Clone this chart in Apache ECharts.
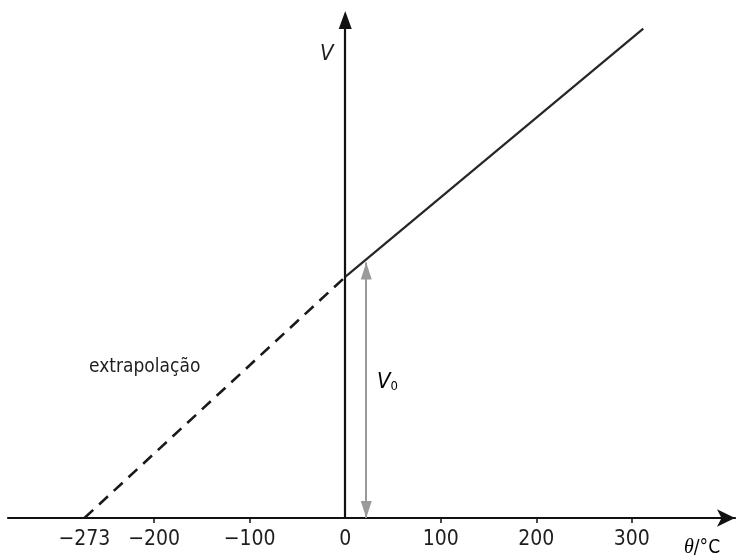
<!DOCTYPE html>
<html>
<head>
<meta charset="utf-8">
<script src="https://cdn.jsdelivr.net/npm/echarts@6/dist/echarts.min.js"></script>
<style>
  html, body { margin: 0; padding: 0; background: #fff; }
  #chart { width: 736px; height: 558px; }
</style>
</head>
<body>
<div id="chart"></div>
<script>
// Gas volume V against temperature θ (°C), with linear extrapolation to −273 °C
const thetaMeasured = [0, 312];      // solid part of the line (θ in °C)
const volumeMeasured = [100, 203];   // V in arbitrary units
const thetaExtrap = [-273, 0];       // dashed extrapolation
const volumeExtrap = [0, 100];
const v0Arrow = [[22, 0], [22, 106]]; // grey double arrow marking V0
const tickLabels = [-273, -200, -100, 0, 100, 200, 300];
const tickMarks = [-200, -100, 100, 200, 300];

const narrow = "'Liberation Sans Narrow','DejaVu Sans Condensed','Roboto Condensed','Liberation Sans',sans-serif";
const ink = '#1e1e1e';

const zip = (xs, ys) => xs.map((x, i) => [x, ys[i]]);

// arrow-head end of the V0 marker: the triangle tip sits on the end point
const arrowEnd = coord => ({
  coord,
  symbol: 'triangle',
  symbolSize: [11, 17],
  symbolOffset: [0, 8.5]
});

const chart = echarts.init(document.getElementById('chart'), null, { renderer: 'canvas' });

chart.setOption({
  animation: false,
  backgroundColor: '#fff',
  grid: { left: 8, right: 1, top: 20, bottom: 40, containLabel: false },
  xAxis: {
    type: 'value',
    min: -353,
    max: 408,
    splitLine: { show: false },
    axisLine: {
      show: true,
      onZero: true,
      symbol: ['none', 'arrow'],
      symbolSize: [13, 18],
      lineStyle: { color: '#111', width: 2.2 }
    },
    axisTick: {
      show: true,
      length: 5,
      customValues: tickMarks,
      lineStyle: { color: '#111', width: 1.5 }
    },
    axisLabel: {
      show: true,
      customValues: tickLabels,
      margin: 11,
      color: ink,
      fontFamily: narrow,
      fontSize: 21,
      formatter: v => (v < 0 ? '\u2212' + Math.abs(v) : String(v))
    }
  },
  yAxis: {
    type: 'value',
    min: 0,
    max: 206.6,
    splitLine: { show: false },
    axisLine: {
      show: true,
      onZero: true,
      symbol: ['none', 'triangle'],
      symbolSize: [13, 18],
      lineStyle: { color: '#111', width: 2.2 }
    },
    axisTick: { show: false },
    axisLabel: { show: false }
  },
  series: [
    {
      type: 'line',
      data: zip(thetaMeasured, volumeMeasured),
      symbol: 'none',
      lineStyle: { color: '#262626', width: 2.2 },
      markLine: {
        silent: true,
        label: { show: false },
        lineStyle: { color: '#9a9a9a', width: 2, type: 'solid' },
        data: [[arrowEnd(v0Arrow[0]), arrowEnd(v0Arrow[1])]]
      }
    },
    {
      type: 'line',
      data: zip(thetaExtrap, volumeExtrap),
      symbol: 'none',
      lineStyle: { color: '#1a1a1a', width: 2.6, type: [12, 8] }
    }
  ],
  graphic: [
    {
      type: 'text', left: 320, top: 43,
      style: { text: 'V', font: 'italic 22px ' + narrow, fill: ink }
    },
    {
      type: 'text', left: 684, top: 538,
      style: {
        text: '{t|θ}{u|/°C}',
        rich: {
          t: { fontFamily: 'Liberation Serif, serif', fontStyle: 'italic', fontSize: 20, color: ink },
          u: { fontFamily: narrow, fontSize: 19, color: ink }
        }
      }
    },
    {
      type: 'text', left: 89, top: 358,
      style: { text: 'extrapolação', font: '19px ' + narrow, fill: ink }
    },
    {
      type: 'text', left: 377, top: 371,
      style: {
        text: '{v|V}{s|0}',
        rich: {
          v: { fontFamily: narrow, fontStyle: 'italic', fontSize: 22, color: ink },
          s: { fontFamily: narrow, fontSize: 13, color: ink, verticalAlign: 'bottom', padding: [9, 0, 0, 0] }
        }
      }
    }
  ]
});
</script>
</body>
</html>
